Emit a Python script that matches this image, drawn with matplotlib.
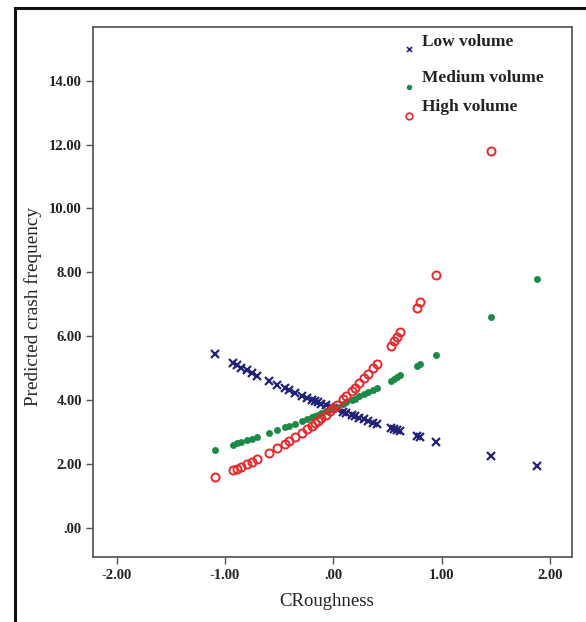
import numpy as np
import matplotlib
matplotlib.use("Agg")
import matplotlib.pyplot as plt
from matplotlib.lines import Line2D
from matplotlib.ticker import FuncFormatter

# CRoughness values (shared by the three traffic-volume groups)
croughness = [-1.09, -0.93, -0.89, -0.85, -0.80, -0.75, -0.70, -0.59, -0.52, -0.45,
              -0.41, -0.35, -0.29, -0.24, -0.20, -0.17, -0.14, -0.11, -0.07, -0.03,
              0.00, 0.03, 0.09, 0.12, 0.17, 0.20, 0.24, 0.28, 0.32, 0.37,
              0.40, 0.53, 0.56, 0.59, 0.62, 0.77, 0.80, 0.95, 1.46, 1.88]

# Predicted crash frequency per group
low_volume = [5.45, 5.16, 5.09, 5.02, 4.93, 4.85, 4.77, 4.59, 4.48, 4.38,
              4.32, 4.23, 4.14, 4.07, 4.02, 3.98, 3.93, 3.89, 3.84, 3.79,
              3.75, 3.71, 3.64, 3.60, 3.54, 3.50, 3.45, 3.41, 3.36, 3.30,
              3.27, 3.13, 3.09, 3.06, 3.03, 2.88, 2.85, 2.70, 2.24, 1.93]
medium_volume = [2.44, 2.61, 2.65, 2.69, 2.75, 2.80, 2.85, 2.98, 3.06, 3.15,
                 3.20, 3.27, 3.35, 3.41, 3.47, 3.51, 3.55, 3.59, 3.65, 3.71,
                 3.75, 3.79, 3.88, 3.93, 4.01, 4.05, 4.12, 4.18, 4.25, 4.33,
                 4.38, 4.61, 4.67, 4.72, 4.78, 5.06, 5.12, 5.42, 6.60, 7.80]
high_volume = [1.59, 1.80, 1.86, 1.92, 1.99, 2.07, 2.16, 2.35, 2.49, 2.63,
               2.71, 2.84, 2.98, 3.10, 3.20, 3.28, 3.36, 3.44, 3.55, 3.66,
               3.75, 3.84, 4.03, 4.12, 4.29, 4.39, 4.53, 4.68, 4.83, 5.02,
               5.14, 5.70, 5.84, 5.98, 6.12, 6.89, 7.06, 7.93, 11.80, np.nan]

series_labels = ["Low volume", "Medium volume", "High volume"]
x_ticks = [-2, -1, 0, 1, 2]
y_ticks = [0, 2, 4, 6, 8, 10, 12, 14]

navy = "#222277"
green = "#1b8a47"
red = "#e8272c"
serif = "Liberation Serif"

fig = plt.figure(figsize=(5.86, 6.22), dpi=100)
fig.patch.set_facecolor("white")
ax = fig.add_axes([0.1587, 0.1037, 0.8174, 0.8529])

ax.plot(croughness, low_volume, linestyle="none", marker="x", markersize=5.2,
        markeredgewidth=1.6, color=navy)
ax.plot(croughness, medium_volume, linestyle="none", marker="o", markersize=5.0,
        markeredgewidth=0, color=green)
ax.plot(croughness, high_volume, linestyle="none", marker="o", markersize=5.8,
        markerfacecolor="none", markeredgewidth=1.4, markeredgecolor=red)

ax.set_xlim(-2.218, 2.203)
ax.set_ylim(-0.923, 15.68)
ax.set_xticks(x_ticks)
ax.set_yticks(y_ticks)


def fmt(v, _pos):
    s = f"{v:.2f}"
    if s.startswith("0."):
        s = s[1:]
    return s


ax.xaxis.set_major_formatter(FuncFormatter(fmt))
ax.yaxis.set_major_formatter(FuncFormatter(fmt))
ax.tick_params(direction="out", length=5, width=1.0, color="#555555",
               pad=3, labelsize=10.5)
for lbl in ax.get_xticklabels() + ax.get_yticklabels():
    lbl.set_fontfamily(serif)
    lbl.set_fontweight("bold")
    lbl.set_color("#222222")
for sp in ax.spines.values():
    sp.set_color("#5a5a5a")
    sp.set_linewidth(1.3)

fig.text(327 / 586, 1 - 602 / 622, "CRoughness", family=serif, fontsize=13.5,
         ha="center", va="center", color="#222222")
fig.text(33 / 586, 1 - 306 / 622, "Predicted crash frequency", family=serif,
         fontsize=13.8, ha="center", va="center", rotation=90, color="#222222")

# Legend entries: marker at lower left of each label
legend_rows = [
    (49, 42.5, dict(marker="x", markersize=3.6, markeredgewidth=1.2, color=navy)),
    (87, 78, dict(marker="o", markersize=4.0, markeredgewidth=0, color=green)),
    (116, 107, dict(marker="o", markersize=4.8, markerfacecolor="none",
                    markeredgewidth=1.2, markeredgecolor=red, color=red)),
]
for label, (my, ty, style) in zip(series_labels, legend_rows):
    fig.add_artist(Line2D([409 / 586], [1 - my / 622], linestyle="none",
                          transform=fig.transFigure, **style))
    fig.text(422 / 586, 1 - ty / 622, label, family=serif, fontweight="bold",
             fontsize=12.5, ha="left", va="center", color="#222222")

# Outer frame (left and top edges)
fig.add_artist(Line2D([15 / 586, 15 / 586], [0, 1 - 8 / 622],
                      transform=fig.transFigure, color="#111111", linewidth=2.2))
fig.add_artist(Line2D([15 / 586, 1], [1 - 8 / 622, 1 - 8 / 622],
                      transform=fig.transFigure, color="#111111", linewidth=2.2))

fig.savefig("out.png", dpi=100, facecolor="white")
